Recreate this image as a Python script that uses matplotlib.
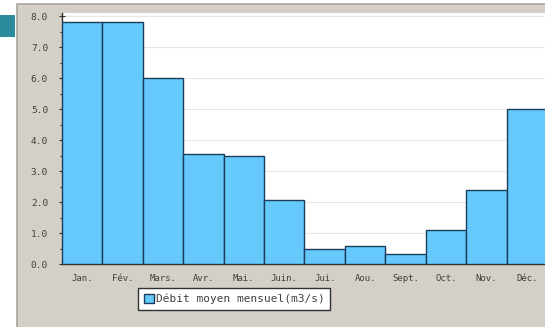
import matplotlib
matplotlib.use("Agg")
import matplotlib.pyplot as plt
from matplotlib.patches import Rectangle
from matplotlib.ticker import MultipleLocator, FormatStrFormatter

months = ["Jan.", "Fév.", "Mars.", "Avr.", "Mai.", "Juin.",
          "Jui.", "Aou.", "Sept.", "Oct.", "Nov.", "Déc."]
debit = [7.8, 7.8, 6.0, 3.55, 3.5, 2.05, 0.5, 0.58, 0.32, 1.1, 2.4, 5.0]
series_label = "Débit moyen mensuel(m3/s)"

W, H = 545, 327
fig = plt.figure(figsize=(W / 100, H / 100), dpi=100)
fig.patch.set_facecolor("white")

# grey panel behind the chart
fig.add_artist(Rectangle((17 / W, -0.05), 1.1, 1.05 - 4 / H, transform=fig.transFigure,
                         facecolor="#d4d0c8", edgecolor="#a8a49c", linewidth=1.2, zorder=0))
# teal accent block
fig.add_artist(Rectangle((0, 1 - 37 / H), 15 / W, 22 / H, transform=fig.transFigure,
                         facecolor="#2a8c9a", edgecolor="none", zorder=1))

ax = fig.add_axes([62 / W, 63 / H, (547 - 62) / W, (264 - 13) / H])
ax.set_facecolor("white")
x = list(range(len(months)))
ax.bar(x, debit, width=1.0, color="#66c9fb", edgecolor="#1c3c5c", linewidth=1.0,
       zorder=3, label=series_label)
ax.set_xlim(-0.5, 11.5)
ax.set_ylim(0, 8.1)

ax.yaxis.set_major_locator(MultipleLocator(1.0))
ax.yaxis.set_minor_locator(MultipleLocator(0.5))
ax.yaxis.set_major_formatter(FormatStrFormatter("%.1f"))
ax.grid(axis="y", which="major", color="#e6e6e6", linewidth=0.8, zorder=0)

ax.set_xticks(x)
ax.set_xticklabels(months)
for side in ["top", "right"]:
    ax.spines[side].set_visible(False)
for side in ["left", "bottom"]:
    ax.spines[side].set_color("#303030")
    ax.spines[side].set_linewidth(1.0)

ax.tick_params(axis="y", which="both", direction="inout", length=4, width=0.8,
               color="#303030", labelsize=6.8, labelcolor="#404040", pad=8)
ax.tick_params(axis="y", which="minor", length=3)
ax.tick_params(axis="x", length=0, labelsize=6.5, labelcolor="#404040", pad=7)
for lab in ax.get_xticklabels() + ax.get_yticklabels():
    lab.set_family("DejaVu Sans Mono")

leg = ax.legend(loc="upper left", bbox_to_anchor=(138 / W, 1 - 288 / H),
                bbox_transform=fig.transFigure, frameon=True, fancybox=False,
                prop={"family": "DejaVu Sans Mono", "size": 8},
                handlelength=0.9, handleheight=0.9, handletextpad=0.2,
                borderpad=0.5, borderaxespad=0)
frame = leg.get_frame()
frame.set_edgecolor("#303030")
frame.set_linewidth(1.0)
frame.set_facecolor("white")
frame.set_alpha(1)
leg.set_zorder(5)
for t in leg.get_texts():
    t.set_color("#404040")

fig.savefig("out.png", dpi=100, facecolor=fig.get_facecolor())
